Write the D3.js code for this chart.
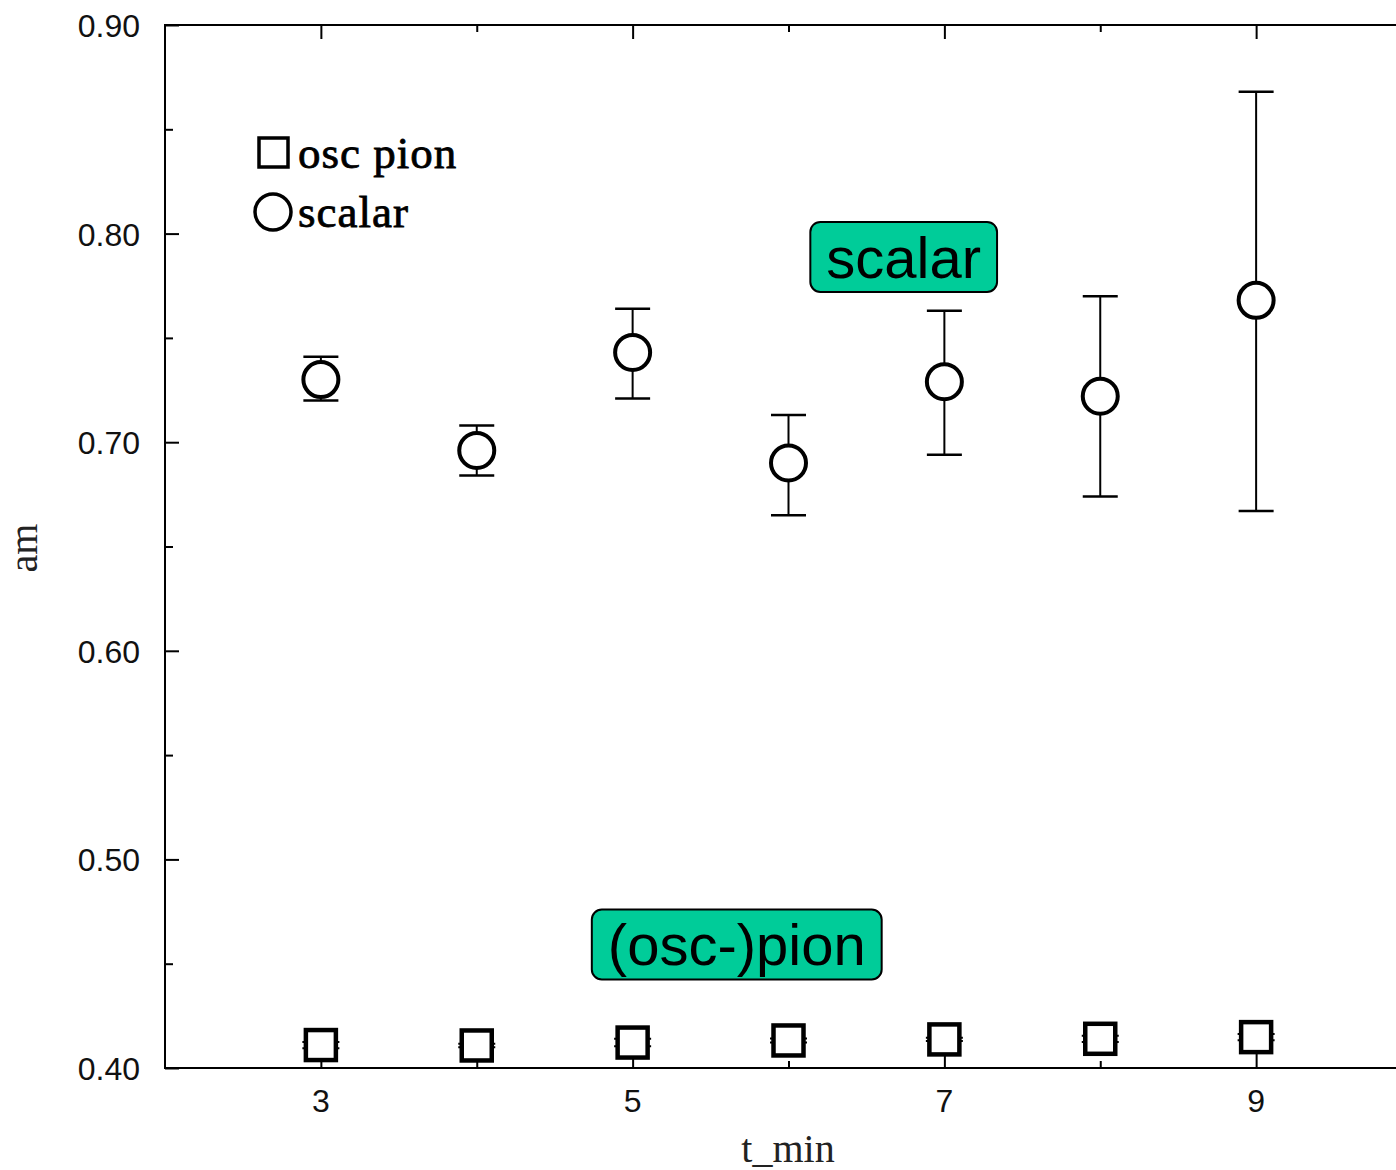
<!DOCTYPE html>
<html>
<head>
<meta charset="utf-8">
<script src="https://cdn.jsdelivr.net/npm/d3@7/dist/d3.min.js"></script>
<style>
  html, body { margin: 0; padding: 0; background: #fff; }
  svg { display: block; }
</style>
</head>
<body>
<svg id="chart" width="1396" height="1170"></svg>
<script>
// ---- data ----
const tmin = [3, 4, 5, 6, 7, 8, 9];
const scalarVal = [0.730, 0.696, 0.743, 0.690, 0.729, 0.722, 0.768];
const scalarLo  = [0.720, 0.684, 0.721, 0.665, 0.694, 0.674, 0.667];
const scalarHi  = [0.741, 0.708, 0.764, 0.713, 0.763, 0.770, 0.868];
const pionVal   = [0.4110, 0.4108, 0.4122, 0.4132, 0.4137, 0.4140, 0.4148];
const pionErr   = [0.0015, 0.0008, 0.0018, 0.0010, 0.0008, 0.0015, 0.0015];
const yMajorTicks = [0.40, 0.50, 0.60, 0.70, 0.80, 0.90];
const yMinorTicks = [0.45, 0.55, 0.65, 0.75, 0.85];
const xMajorTicks = [3, 5, 7, 9];
const xMinorTicks = [4, 6, 8];
const legendLabels = ["osc pion", "scalar"];
const annotations = [
  { text: "scalar", x: 6.739, y: 0.7888 },
  { text: "(osc-)pion", x: 5.668, y: 0.4592 }
];

// ---- layout ----
const svg = d3.select("#chart");
const x = d3.scaleLinear().domain([2, 10]).range([165, 1412]);
const y = d3.scaleLinear().domain([0.40, 0.90]).range([1068, 25]);
const tickFont = "'Liberation Sans', Arial, sans-serif";
const serif = "'Liberation Serif', 'Times New Roman', serif";

// frame
svg.append("rect")
  .attr("x", x(2)).attr("y", y(0.90))
  .attr("width", x(10) - x(2)).attr("height", y(0.40) - y(0.90))
  .attr("fill", "none").attr("stroke", "#000").attr("stroke-width", 2);

// left axis ticks (inward)
const gL = svg.append("g").attr("transform", `translate(${x(2)},0)`);
gL.call(d3.axisRight(y).tickValues(yMajorTicks).tickSize(14).tickFormat(""))
  .call(g => g.select(".domain").remove());
gL.append("g").call(d3.axisRight(y).tickValues(yMinorTicks).tickSize(8).tickFormat(""))
  .call(g => g.select(".domain").remove());
gL.selectAll("line").attr("stroke", "#000").attr("stroke-width", 2);

// right axis ticks (inward)
const gR = svg.append("g").attr("transform", `translate(${x(10)},0)`);
gR.call(d3.axisLeft(y).tickValues(yMajorTicks).tickSize(14).tickFormat(""))
  .call(g => g.select(".domain").remove());
gR.append("g").call(d3.axisLeft(y).tickValues(yMinorTicks).tickSize(8).tickFormat(""))
  .call(g => g.select(".domain").remove());
gR.selectAll("line").attr("stroke", "#bbb").attr("stroke-width", 2);

// y tick labels
svg.append("g").selectAll("text").data(yMajorTicks).join("text")
  .attr("x", 140).attr("y", d => y(d) + 12)
  .attr("text-anchor", "end")
  .attr("font-family", tickFont).attr("font-size", 32)
  .attr("fill", "#111")
  .text(d => d3.format(".2f")(d));

// bottom axis ticks (inward)
const gB = svg.append("g").attr("transform", `translate(0,${y(0.40)})`);
gB.call(d3.axisTop(x).tickValues(xMajorTicks).tickSize(14).tickFormat(""))
  .call(g => g.select(".domain").remove());
gB.append("g").call(d3.axisTop(x).tickValues(xMinorTicks).tickSize(7).tickFormat(""))
  .call(g => g.select(".domain").remove());
gB.selectAll("line").attr("stroke", "#000").attr("stroke-width", 2);

// top axis ticks (inward)
const gT = svg.append("g").attr("transform", `translate(0,${y(0.90)})`);
gT.call(d3.axisBottom(x).tickValues(xMajorTicks).tickSize(14).tickFormat(""))
  .call(g => g.select(".domain").remove());
gT.append("g").call(d3.axisBottom(x).tickValues(xMinorTicks).tickSize(7).tickFormat(""))
  .call(g => g.select(".domain").remove());
gT.selectAll("line").attr("stroke", "#000").attr("stroke-width", 2);

// x tick labels
svg.append("g").selectAll("text").data(xMajorTicks).join("text")
  .attr("x", d => x(d)).attr("y", 1112)
  .attr("text-anchor", "middle")
  .attr("font-family", tickFont).attr("font-size", 32)
  .attr("fill", "#111")
  .text(d => d);

// axis titles
svg.append("text")
  .attr("x", 788).attr("y", 1162)
  .attr("text-anchor", "middle")
  .attr("font-family", serif).attr("font-size", 40)
  .attr("fill", "#222")
  .text("t_min");
svg.append("text")
  .attr("transform", `translate(37,548) rotate(-90)`)
  .attr("text-anchor", "middle")
  .attr("font-family", serif).attr("font-size", 40)
  .attr("fill", "#222")
  .text("am");

// scalar error bars
const capW = 35;
const sc = svg.append("g");
tmin.forEach((t, i) => {
  const cx = x(t);
  sc.append("line").attr("x1", cx).attr("x2", cx)
    .attr("y1", y(scalarLo[i])).attr("y2", y(scalarHi[i]))
    .attr("stroke", "#000").attr("stroke-width", 2);
  [scalarLo[i], scalarHi[i]].forEach(v => {
    sc.append("line").attr("x1", cx - capW / 2).attr("x2", cx + capW / 2)
      .attr("y1", y(v)).attr("y2", y(v))
      .attr("stroke", "#000").attr("stroke-width", 2.5);
  });
});
sc.selectAll("circle.pt").data(tmin).join("circle")
  .attr("cx", d => x(d)).attr("cy", (d, i) => y(scalarVal[i]))
  .attr("r", 17.5)
  .attr("fill", "#fff").attr("stroke", "#000").attr("stroke-width", 4);

// pion error bars + squares
const pi = svg.append("g");
tmin.forEach((t, i) => {
  const cx = x(t);
  [pionVal[i] - pionErr[i], pionVal[i] + pionErr[i]].forEach(v => {
    pi.append("line").attr("x1", cx - capW / 2 - 1).attr("x2", cx + capW / 2 + 1)
      .attr("y1", y(v)).attr("y2", y(v))
      .attr("stroke", "#000").attr("stroke-width", 2);
  });
});
const sq = 30;
pi.selectAll("rect").data(tmin).join("rect")
  .attr("x", d => x(d) - sq / 2).attr("y", (d, i) => y(pionVal[i]) - sq / 2)
  .attr("width", sq).attr("height", sq)
  .attr("fill", "#fff").attr("stroke", "#000").attr("stroke-width", 4.5);

// legend
const lg = svg.append("g");
lg.append("rect").attr("x", 259).attr("y", 138).attr("width", 29).attr("height", 29)
  .attr("fill", "#fff").attr("stroke", "#000").attr("stroke-width", 3.5);
lg.append("circle").attr("cx", 273).attr("cy", 212).attr("r", 18)
  .attr("fill", "#fff").attr("stroke", "#000").attr("stroke-width", 3.5);
lg.selectAll("text").data(legendLabels).join("text")
  .attr("x", 298).attr("y", (d, i) => 168 + i * 59)
  .attr("font-family", serif).attr("font-size", 45)
  .attr("letter-spacing", 1)
  .attr("fill", "#000")
  .attr("stroke", "#000").attr("stroke-width", 0.8)
  .text(d => d);

// annotation boxes
const an = svg.append("g");
const annFs = 58;
annotations.forEach(a => {
  const cx = x(a.x), cy = y(a.y);
  const t = an.append("text")
    .attr("x", cx).attr("y", cy + 0.36 * annFs)
    .attr("text-anchor", "middle")
    .attr("font-family", tickFont).attr("font-size", annFs)
    .attr("fill", "#000")
    .text(a.text);
  const w = t.node().getComputedTextLength() + 32;
  an.insert("rect", "text")
    .attr("x", cx - w / 2).attr("y", cy - 35)
    .attr("width", w).attr("height", 70)
    .attr("rx", 10).attr("ry", 10)
    .attr("fill", "#00CC99").attr("stroke", "#000").attr("stroke-width", 2);
});
</script>
</body>
</html>
